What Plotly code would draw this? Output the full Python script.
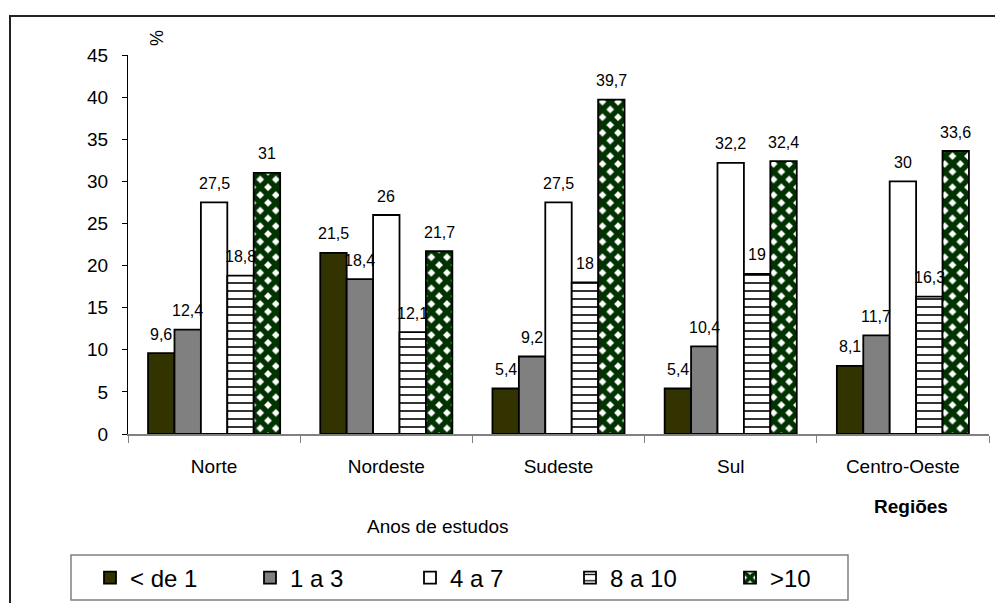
import plotly.graph_objects as go

# Regiões e séries (anos de estudos), valores em %
regioes = ["Norte", "Nordeste", "Sudeste", "Sul", "Centro-Oeste"]
series = ["< de 1", "1 a 3", "4 a 7", "8 a 10", ">10"]
menos_de_1 = [9.6, 21.5, 5.4, 5.4, 8.1]
de_1_a_3 = [12.4, 18.4, 9.2, 10.4, 11.7]
de_4_a_7 = [27.5, 26, 27.5, 32.2, 30]
de_8_a_10 = [18.8, 12.1, 18, 19, 16.3]
mais_de_10 = [31, 21.7, 39.7, 32.4, 33.6]
y_ticks = [0, 5, 10, 15, 20, 25, 30, 35, 40, 45]

valores = [menos_de_1, de_1_a_3, de_4_a_7, de_8_a_10, mais_de_10]

estilos = [
    dict(color="#333300"),
    dict(color="#808080"),
    dict(color="#FFFFFF"),
    dict(color="#FFFFFF", pattern=dict(shape="-", fgcolor="#000000", fgopacity=1,
                                       size=8, solidity=0.2)),
    dict(color="#FFFFFF", pattern=dict(shape="x", fgcolor="#003300", fgopacity=1,
                                       size=11, solidity=0.75)),
]

FONT = "Arial, Liberation Sans, sans-serif"
BARGAP = 0.233

fig = go.Figure()
for nome, vals, est in zip(series, valores, estilos):
    fig.add_trace(go.Bar(
        name=nome,
        x=regioes,
        y=vals,
        marker=dict(line=dict(color="#000000", width=1.8), **est),
    ))

# rótulos de valor sobre cada barra (posição no eixo categórico + deslocamento do grupo)
n = len(series)
largura = (1 - BARGAP) / n
rotulos = []
for j, vals in enumerate(valores):
    for i, v in enumerate(vals):
        rotulos.append(dict(
            text=f"{v:g}".replace(".", ","),
            xref="x", yref="y",
            x=i - (1 - BARGAP) / 2 + (j + 0.5) * largura,
            y=v,
            xanchor="center", yanchor="middle", yshift=19,
            showarrow=False,
            font=dict(family=FONT, size=16, color="#000000"),
        ))

W, H = 995, 603
L, R, T, B = 128, 6, 55, 169
pw, ph = W - L - R, H - T - B


def px(x):
    return (x - L) / pw


def py(y):
    return (H - B - y) / ph


fig.update_layout(
    width=W, height=H,
    margin=dict(l=L, r=R, t=T, b=B, autoexpand=False),
    paper_bgcolor="#FFFFFF",
    plot_bgcolor="#FFFFFF",
    barmode="group",
    bargap=BARGAP,
    bargroupgap=0,
    font=dict(family=FONT, color="#000000"),
    showlegend=True,
    legend=dict(
        orientation="h",
        x=px(90), y=py(578), xanchor="left", yanchor="middle",
        font=dict(family=FONT, size=24, color="#000000"),
        bgcolor="rgba(0,0,0,0)",
        borderwidth=0,
        entrywidth=115,
        entrywidthmode="pixels",
        traceorder="normal",
    ),
    xaxis=dict(
        range=[-0.5, 4.5],
        showline=True, linecolor="#808080", linewidth=1.5,
        ticks="outside", tickson="boundaries", ticklen=7, tickcolor="#808080",
        tickfont=dict(family=FONT, size=19, color="#000000"),
        ticklabelstandoff=14,
        showgrid=False, zeroline=False,
    ),
    yaxis=dict(
        range=[0, 45],
        tickvals=y_ticks,
        showline=True, linecolor="#000000", linewidth=1,
        ticks="outside", ticklen=5, tickcolor="#000000",
        tickfont=dict(family=FONT, size=19, color="#000000"),
        ticklabelstandoff=10,
        showgrid=False, zeroline=False,
    ),
    shapes=[
        # moldura externa do gráfico
        dict(type="rect", xref="paper", yref="paper",
             x0=px(10), x1=px(1100), y0=py(700), y1=py(16),
             line=dict(color="#222222", width=2), fillcolor="rgba(0,0,0,0)", layer="below"),
        # caixa da legenda
        dict(type="rect", xref="paper", yref="paper",
             x0=px(71), x1=px(848), y0=py(600), y1=py(555),
             line=dict(color="#808080", width=1.5), fillcolor="rgba(0,0,0,0)", layer="below"),
    ],
    annotations=rotulos + [
        dict(text="%", xref="paper", yref="paper", x=px(157), y=py(38),
             xanchor="center", yanchor="middle",
             showarrow=False, textangle=-90, font=dict(family=FONT, size=18)),
        dict(text="Anos de estudos", xref="paper", yref="paper", x=px(438), y=py(526),
             xanchor="center", yanchor="middle",
             showarrow=False, font=dict(family=FONT, size=19)),
        dict(text="<b>Regiões</b>", xref="paper", yref="paper", x=px(911), y=py(506),
             xanchor="center", yanchor="middle",
             showarrow=False, font=dict(family=FONT, size=19)),
    ],
)

fig.write_html("out.html")
